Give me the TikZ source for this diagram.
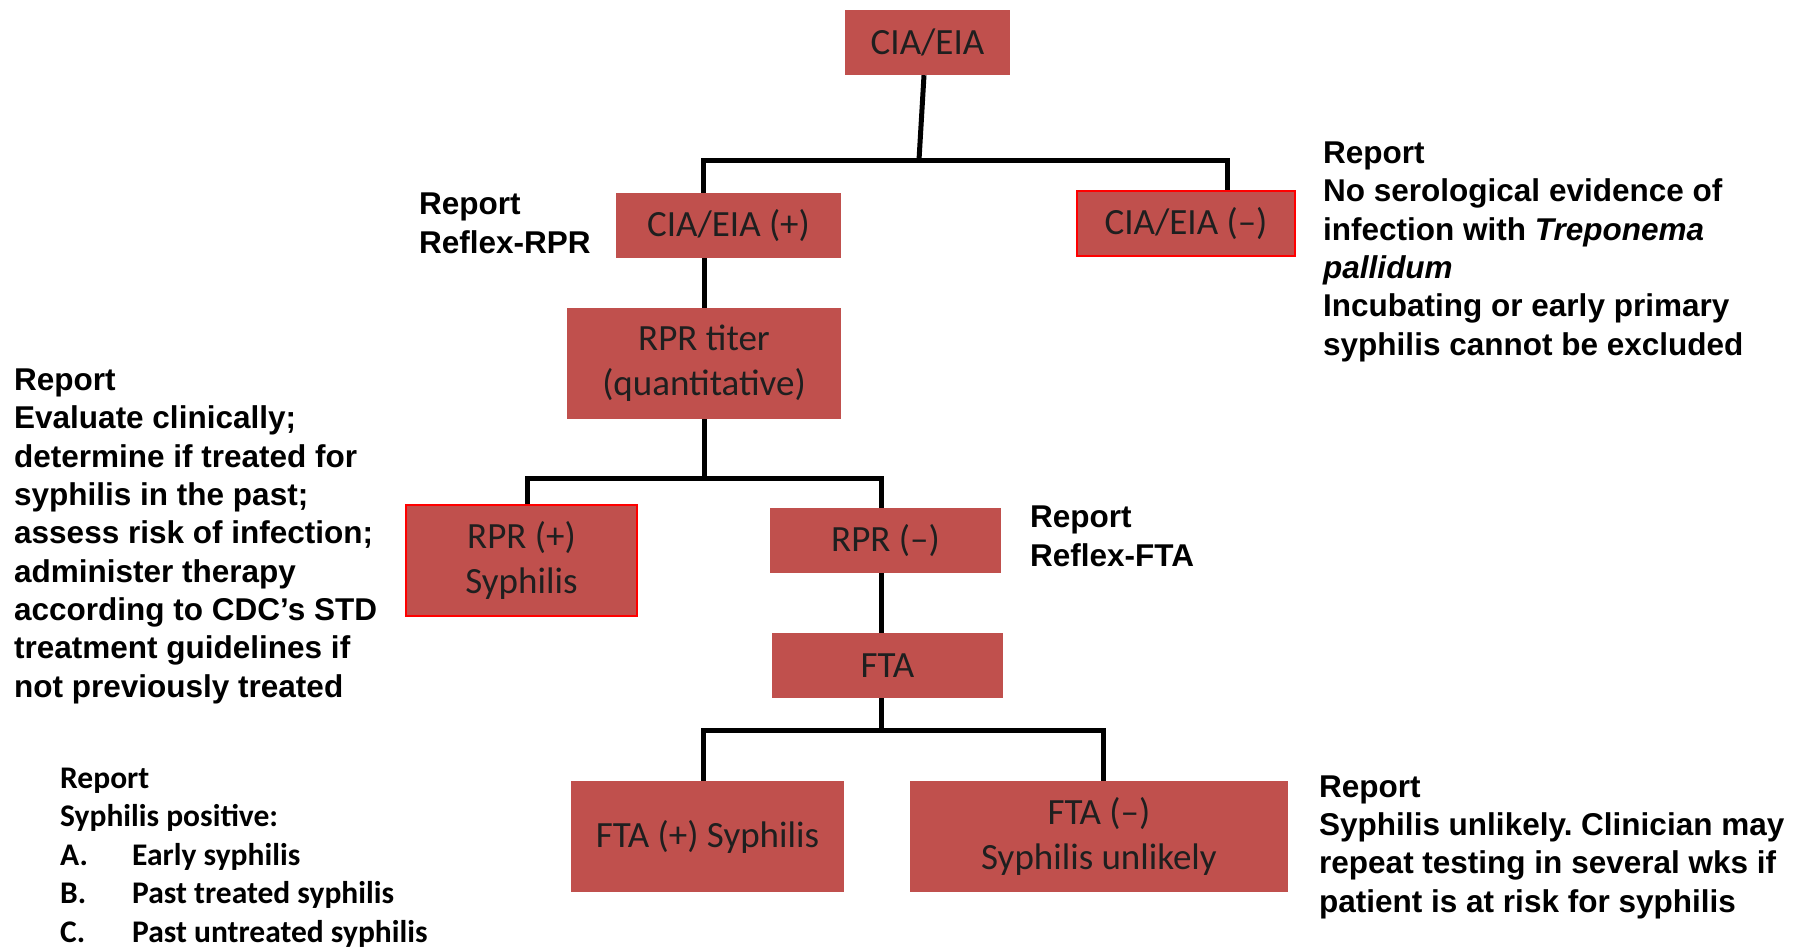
\documentclass[tikz,border=0pt]{standalone}
\usepackage{fontspec}
\setmainfont{Liberation Sans}
\newfontfamily\boxfont{Carlito}
\definecolor{boxred}{HTML}{C0504D}
\definecolor{boxtext}{HTML}{1F1F1F}
\frenchspacing
\begin{document}
\begin{tikzpicture}[x=1pt,y=-1pt,
  tbox/.style={rectangle, fill=boxred, inner sep=0pt, text=boxtext,
    font=\boxfont\fontsize{37}{45}\selectfont, align=center},
  redline/.style={draw=red, line width=2pt},
  conn/.style={draw=black, line width=5pt},
  txt/.style={font=\bfseries\fontsize{31.5}{38.3}\selectfont, align=left,
    inner sep=0pt, anchor=base west},
  ctxt/.style={font=\boxfont\bfseries\fontsize{31.5}{38.5}\selectfont, align=left,
    inner sep=0pt, anchor=base west}]
\useasboundingbox (0,0) rectangle (1806,948);
% boxes
\node[tbox, minimum width=165, minimum height=65] (top) at (927.5,42.5) {CIA/EIA};
\node[tbox, minimum width=225, minimum height=65] (cpos) at (728.5,225.5) {CIA/EIA (+)};
\node[tbox, redline, minimum width=218, minimum height=65] (cneg) at (1186,223.5) {CIA/EIA (–)};
\node[tbox, minimum width=274, minimum height=111] (rprt) at (704,363.5) {RPR titer\\(quantitative)};
\node[tbox, redline, minimum width=231, minimum height=111] (rpos) at (521.5,560.5) {RPR (+)\\Syphilis};
\node[tbox, minimum width=231, minimum height=65] (rneg) at (885.5,540.5) {RPR (–)};
\node[tbox, minimum width=231, minimum height=65] (fta) at (887.5,665.5) {FTA};
\node[tbox, minimum width=273, minimum height=111] (fpos) at (707.5,836.5) {FTA (+) Syphilis};
\node[tbox, minimum width=378, minimum height=111] (fneg) at (1099,836.5) {FTA (–)\\Syphilis unlikely};
% junctions
\coordinate (j0) at (919,160);
\coordinate (jl) at (703,160);
\coordinate (jr) at (1227,160);
\coordinate (kl) at (527,478);
\coordinate (kr) at (881,478);
\coordinate (ml) at (703,730);
\coordinate (mr) at (1103,730);
% connectors
\draw[conn] ([xshift=-3.5pt]top.south) -- (j0);
\draw[conn] (jl |- cpos.north) -- (jl) -- (jr) -- (jr |- cneg.north);
\draw[conn] (rprt.north) -- (rprt.north |- cpos.south);
\draw[conn] (rprt.south) -- (rprt.south |- kl);
\draw[conn] (kl |- rpos.north) -- (kl) -- (kr) -- (kr |- rneg.north);
\draw[conn] (kr |- rneg.south) -- (kr |- fta.north);
\draw[conn] (kr |- fta.south) -- (kr |- ml);
\draw[conn] (ml |- fpos.north) -- (ml) -- (mr) -- (mr |- fneg.north);
% texts (anchored at the baseline of their last line)
\node[txt] (t1) at (419,253) {Report\\Reflex-RPR};
\node[txt] (t2) at (1323,355) {Report\\No serological evidence of\\infection with \textit{Treponema}\\\textit{pallidum}\\Incubating or early primary\\syphilis cannot be excluded};
\node[txt] (t3) at (14,697) {Report\\Evaluate clinically;\\determine if treated for\\syphilis in the past;\\assess risk of infection;\\administer therapy\\according to CDC’s STD\\treatment guidelines if\\not previously treated};
\node[txt] (t4) at (1030,566) {Report\\Reflex-FTA};
\node[txt] (t5) at (1319,912) {Report\\Syphilis unlikely. Clinician may\\repeat testing in several wks if\\patient is at risk for syphilis};
\node[ctxt] (t6) at (60,942) {Report\\Syphilis positive:\\\makebox[72pt][l]{A.}Early syphilis\\\makebox[72pt][l]{B.}Past treated syphilis\\\makebox[72pt][l]{C.}Past untreated syphilis};
\end{tikzpicture}
\end{document}
